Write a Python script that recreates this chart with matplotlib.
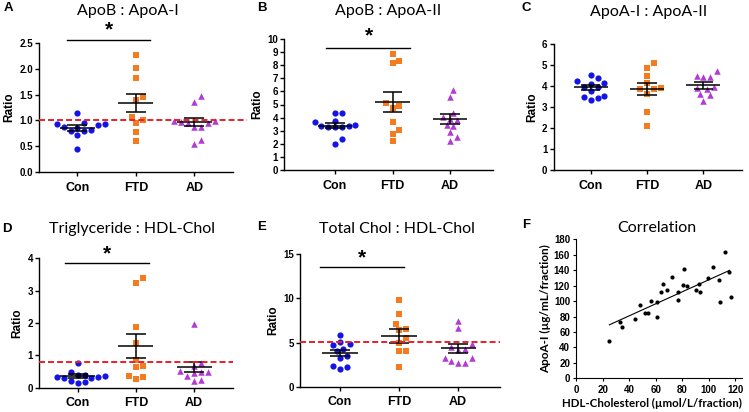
import numpy as np
import matplotlib
matplotlib.use("Agg")
import matplotlib.pyplot as plt

plt.rcParams['font.family'] = ['Liberation Sans', 'DejaVu Sans']
plt.rcParams['lines.scale_dashes'] = False

groups = ['Con', 'FTD', 'AD']

# A. ApoB : ApoA-I
a_con = [1.14, 0.96, 0.93, 0.93, 0.92, 0.87, 0.86, 0.82, 0.80, 0.80, 0.71, 0.45]
a_ftd = [2.27, 2.02, 1.81, 1.45, 1.40, 1.07, 1.00, 0.95, 0.77, 0.60]
a_ad = [1.47, 1.36, 0.98, 0.98, 0.97, 0.96, 0.96, 0.87, 0.87, 0.62, 0.54]
a_mean = [0.86, 1.34, 0.97]
a_sem = [0.055, 0.175, 0.085]

# B. ApoB : ApoA-II
b_con = [4.33, 4.32, 3.77, 3.64, 3.42, 3.38, 3.35, 3.30, 3.27, 3.25, 2.37, 1.96]
b_ftd = [8.83, 8.32, 8.19, 5.09, 4.91, 4.71, 3.64, 3.05, 2.72, 2.19]
b_ad = [6.10, 5.60, 4.33, 4.07, 3.87, 3.80, 3.40, 3.35, 2.88, 2.54, 2.21]
b_mean = [3.36, 5.17, 3.87]
b_sem = [0.19, 0.78, 0.38]

# C. ApoA-I : ApoA-II
c_con = [4.52, 4.38, 4.25, 4.12, 4.10, 3.97, 3.95, 3.75, 3.52, 3.48, 3.45, 3.35]
c_ftd = [5.10, 4.87, 4.47, 4.12, 3.90, 3.85, 3.85, 3.62, 2.75, 2.10]
c_ad = [4.72, 4.50, 4.45, 4.45, 3.95, 3.90, 3.85, 3.60, 3.55, 3.30]
c_mean = [3.94, 3.85, 4.03]
c_sem = [0.11, 0.29, 0.15]

# D. Triglyceride : HDL-Chol
d_con = [0.77, 0.47, 0.40, 0.38, 0.36, 0.34, 0.33, 0.31, 0.29, 0.21, 0.18, 0.15]
d_ftd = [3.38, 3.23, 1.87, 1.38, 0.87, 0.68, 0.65, 0.35, 0.33, 0.27]
d_ad = [1.98, 0.75, 0.68, 0.53, 0.50, 0.48, 0.45, 0.35, 0.23, 0.22]
d_mean = [0.36, 1.30, 0.64]
d_sem = [0.05, 0.37, 0.16]

# E. Total Chol : HDL-Chol
e_con = [5.85, 5.02, 4.83, 4.75, 4.30, 4.00, 3.47, 3.30, 2.38, 2.26, 2.00]
e_ftd = [9.81, 8.23, 7.13, 6.49, 6.40, 5.50, 4.90, 4.08, 4.00, 2.19]
e_ad = [7.47, 6.68, 4.83, 4.50, 4.30, 4.20, 3.28, 3.20, 2.94, 2.70, 2.70]
e_mean = [3.80, 5.75, 4.35]
e_sem = [0.37, 0.75, 0.50]

# F. correlation
f_hdl = [25, 33.2, 34.2, 44, 47.8, 51.8, 54, 56.3, 60.8, 61, 63.8, 65.8, 68.8, 72.5, 76.5,
         76.5, 80.3, 81.5, 84, 90.5, 92.8, 93.5, 99.3, 103.3, 108, 108.8, 112.5, 115.5, 116.8]
f_apoa1 = [48.3, 73.3, 66, 76.8, 94.9, 85, 84.2, 100.5, 98.4, 79, 112.1, 122.1, 114.8, 131.6, 101.4,
           111.4, 120.4, 141.5, 119.5, 114.3, 122, 112.1, 130.3, 143.7, 127.3, 99.2, 164, 137.7, 105.3]

colors = ['#1414e6', '#f47b20', '#b23ad6']
markers = ['o', 's', '^']
msizes = [20, 18, 22]

W, H = 749, 412
fig = plt.figure(figsize=(W / 100, H / 100), dpi=100)


def px_rect(left, right, top, bottom):
    return [left / W, 1 - bottom / H, (right - left) / W, (bottom - top) / H]


def swarm_x(ax, vals, center, d):
    # simple beeswarm: spread points with similar values sideways
    pts = ax.transData.transform(np.column_stack([np.full(len(vals), center), vals]))
    ys = pts[:, 1]
    cx = pts[0, 0]
    placed = []
    xs = np.zeros(len(vals))
    for i in np.argsort(ys):
        for k in range(60):
            off = ((k + 1) // 2) * d * 0.5 * (1 if k % 2 else -1)
            if all((off - px) ** 2 + (ys[i] - py) ** 2 >= d * d for px, py in placed):
                break
        xs[i] = cx + off
        placed.append((off, ys[i]))
    return ax.transData.inverted().transform(np.column_stack([xs, ys]))[:, 0]


def dot_panel(rect, xlim, series, means, sems, ylim, yticks, yfmt, title, title_xy,
              letter, letter_xy, ref=None, ref_end=None, sig=None):
    ax = fig.add_axes(rect)
    ax.set_xlim(xlim)
    ax.set_ylim(ylim)
    for i, vals in enumerate(series):
        xs = swarm_x(ax, vals, i, 6.8)
        ax.scatter(xs, vals, s=msizes[i], marker=markers[i], color=colors[i],
                   linewidths=0, zorder=3, clip_on=False)
        ax.hlines(means[i], i - 0.3, i + 0.3, color='black', lw=1.1, zorder=4)
        ax.vlines(i, means[i] - sems[i], means[i] + sems[i], color='black', lw=1.1, zorder=4)
        ax.hlines([means[i] - sems[i], means[i] + sems[i]], i - 0.17, i + 0.17,
                  color='black', lw=1.1, zorder=4)
    if ref is not None:
        x_end = xlim[1] if ref_end is None else ref_end
        ax.plot([xlim[0], x_end], [ref, ref], color='#e8202a', lw=1.4,
                dashes=(4.3, 2.2), zorder=5, clip_on=False)
    if sig is not None:
        x0, x1, yb, xs_, ys_ = sig
        ax.plot([x0, x1], [yb, yb], color='black', lw=1.0, clip_on=False)
        ax.text(xs_, ys_, '*', ha='center', va='center', fontsize=15,
                fontweight='bold', clip_on=False)
    ax.set_xticks(range(3))
    ax.set_xticklabels(groups, fontsize=9, fontweight='bold')
    ax.set_yticks(yticks)
    ax.set_yticklabels([yfmt % t for t in yticks], fontsize=7, fontweight='bold')
    ax.tick_params(axis='x', length=3, width=1, pad=4)
    ax.tick_params(axis='y', length=3, width=1, pad=1.5)
    ax.set_ylabel('Ratio', fontsize=8.5, fontweight='bold', labelpad=3)
    ax.spines['top'].set_visible(False)
    ax.spines['right'].set_visible(False)
    for s in ['left', 'bottom']:
        ax.spines[s].set_linewidth(1.0)
    fig.text(title_xy[0] / W, 1 - title_xy[1] / H, title, ha='center', va='center',
             fontsize=11.5, family=['Lato', 'DejaVu Sans'])
    fig.text(letter_xy[0] / W, 1 - letter_xy[1] / H, letter, ha='center', va='center',
             fontsize=9.5, fontweight='bold')
    return ax


dot_panel(px_rect(39.3, 233, 42.7, 172.3), (-0.65, 2.66), [a_con, a_ftd, a_ad], a_mean, a_sem,
          (0, 2.5), [0, 0.5, 1.0, 1.5, 2.0, 2.5], '%.1f', 'ApoB : ApoA-I', (128, 11),
          'A', (8, 8), ref=1.0, ref_end=2.9, sig=(-0.18, 1.25, 2.55, 0.54, 2.74))

dot_panel(px_rect(284.3, 492.7, 39, 170), (-0.88, 2.74), [b_con, b_ftd, b_ad], b_mean, b_sem,
          (0, 10), list(range(0, 11)), '%d', 'ApoB : ApoA-II', (388, 11),
          'B', (262, 8), sig=(-0.16, 1.30, 9.34, 0.59, 10.2))

dot_panel(px_rect(553.7, 741.7, 44, 170), (-0.657, 2.68), [c_con, c_ftd, c_ad], c_mean, c_sem,
          (0, 6), list(range(0, 7)), '%d', 'ApoA-I : ApoA-II', (649, 12),
          'C', (526, 8))

dot_panel(px_rect(39.3, 232.7, 258.3, 387.7), (-0.66, 2.664), [d_con, d_ftd, d_ad], d_mean, d_sem,
          (0, 4), [0, 1, 2, 3, 4], '%d', 'Triglyceride : HDL-Chol', (132, 229),
          'D', (7, 229), ref=0.8, sig=(-0.22, 1.22, 3.85, 0.5, 4.15))

dot_panel(px_rect(300.3, 500, 254.3, 386.7), (-0.673, 2.707), [e_con, e_ftd, e_ad], e_mean, e_sem,
          (0, 15), [0, 5, 10, 15], '%d', 'Total Chol : HDL-Chol', (397, 229),
          'E', (262, 227), ref=5.1, sig=(-0.34, 1.08, 13.6, 0.37, 14.6))

# F. scatter with linear fit
axf = fig.add_axes(px_rect(576.3, 741.7, 239.3, 378.3))
axf.scatter(f_hdl, f_apoa1, s=9, color='black', linewidths=0, zorder=3)
slope, icept = np.polyfit(f_hdl, f_apoa1, 1)
xfit = np.array([min(f_hdl), max(f_hdl) - 1])
axf.plot(xfit, slope * xfit + icept, color='black', lw=0.8)
axf.set_xlim(0, 125)
axf.set_ylim(0, 180)
axf.set_xticks(range(0, 121, 20))
axf.set_yticks(range(0, 181, 20))
axf.tick_params(labelsize=7, length=2.5, width=0.8, pad=2)
for lab in axf.get_xticklabels() + axf.get_yticklabels():
    lab.set_fontweight('bold')
axf.spines['top'].set_visible(False)
axf.spines['right'].set_visible(False)
axf.set_ylabel('ApoA-I (µg/mL/fraction)', fontsize=8.5, fontweight='bold',
               family=['Lato', 'DejaVu Sans'], labelpad=2)
fig.text(652 / W, 1 - 403 / H, 'HDL-Cholesterol (µmol/L/fraction)', ha='center', va='center',
         fontsize=8.3, fontweight='bold', family=['Lato', 'DejaVu Sans'])
fig.text(657 / W, 1 - 228 / H, 'Correlation', ha='center', va='center', fontsize=11.5,
         family=['Lato', 'DejaVu Sans'])
fig.text(526 / W, 1 - 225 / H, 'F', ha='center', va='center', fontsize=9.5, fontweight='bold')

fig.savefig('out.png', dpi=100)
